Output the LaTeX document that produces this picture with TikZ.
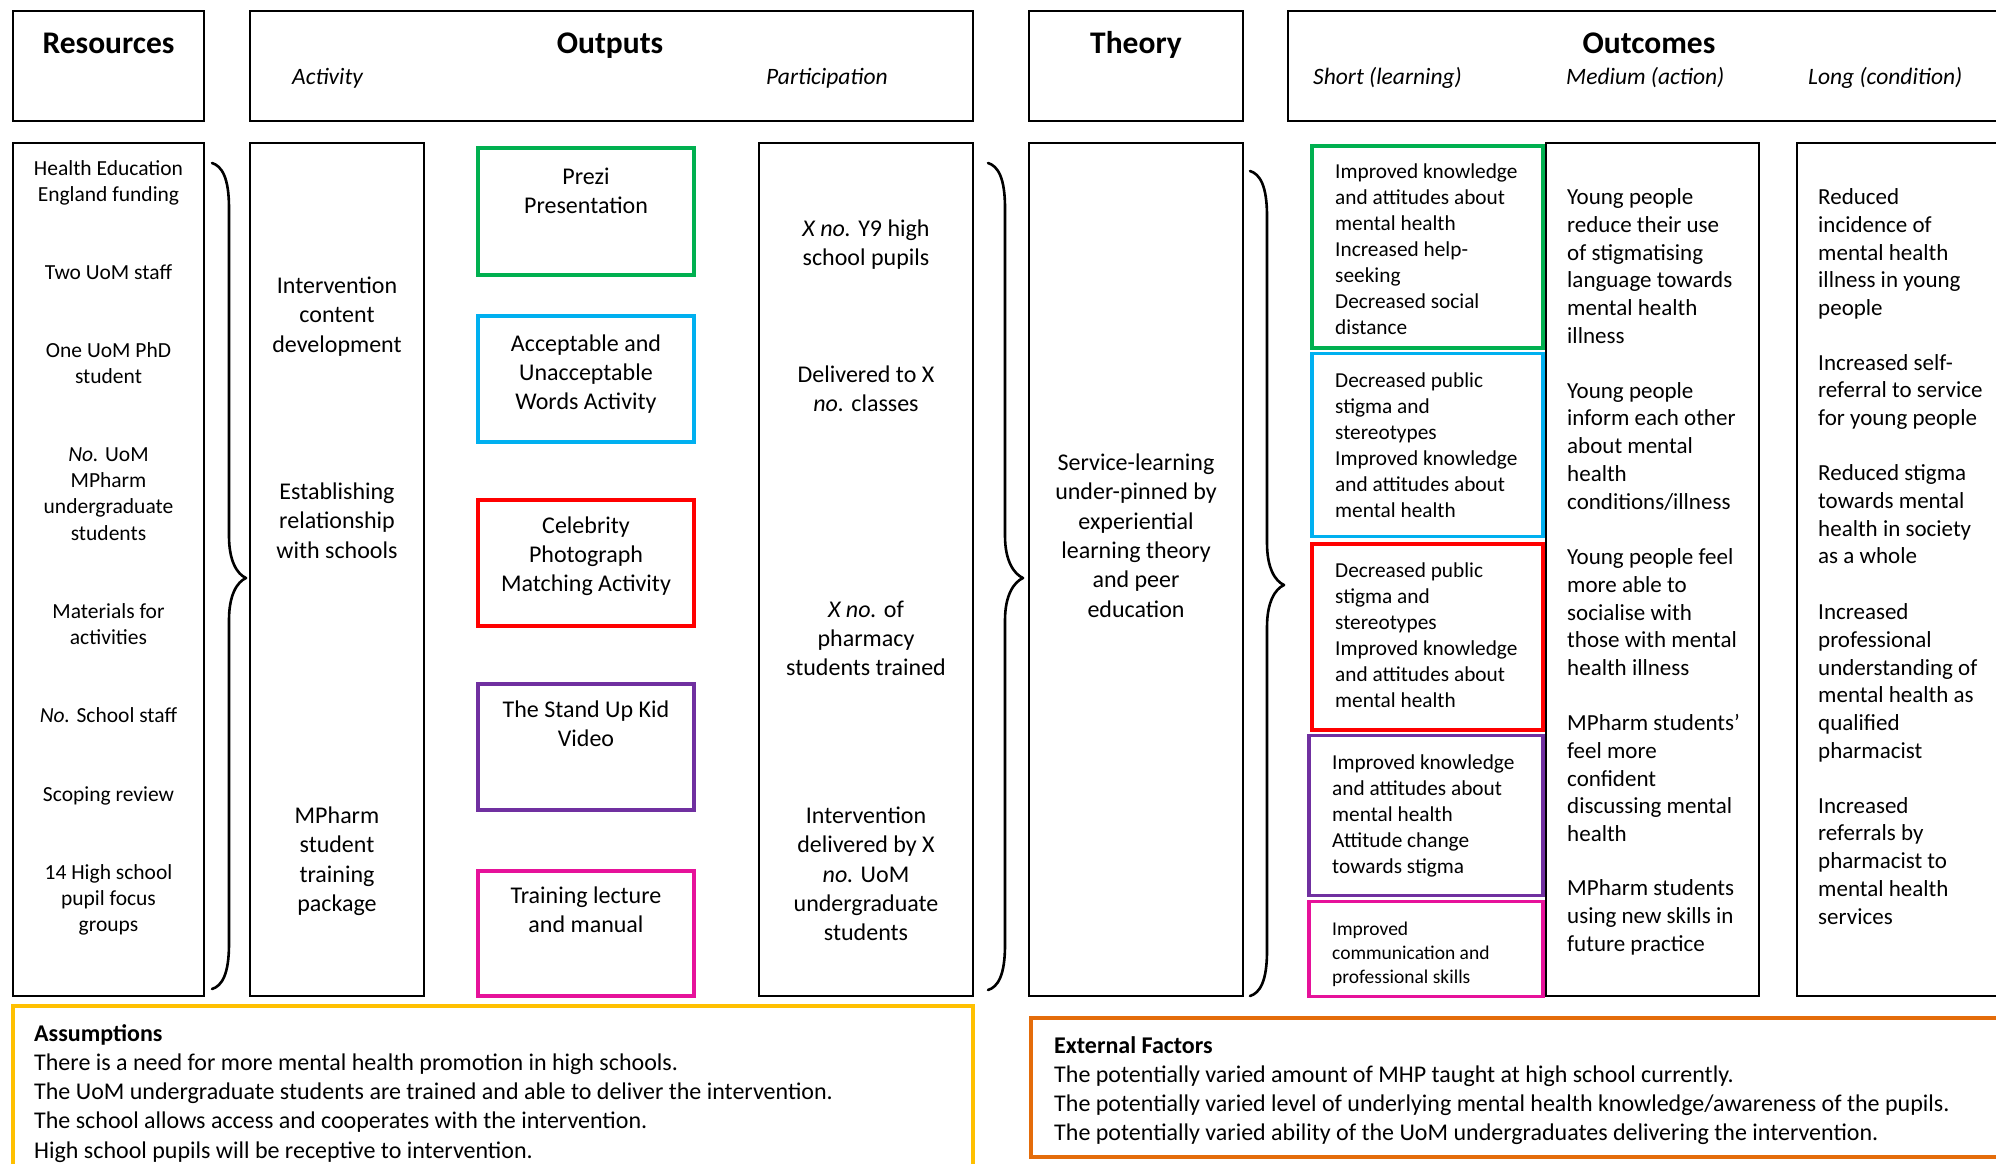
\documentclass[tikz,border=0pt]{standalone}
\usepackage{fontspec}
\setmainfont{Carlito}

\definecolor{cgreen}{HTML}{00B050}
\definecolor{ccyan}{HTML}{00B0F0}
\definecolor{cred}{HTML}{FF0000}
\definecolor{cpurple}{HTML}{7030A0}
\definecolor{cmagenta}{HTML}{E6129A}
\definecolor{cyellow}{HTML}{FFC000}
\definecolor{corange}{HTML}{E46C0A}

% stacked lines, baseline of the first line is the node baseline
\newcommand\cstack[1]{\begin{tabular}[t]{@{}c@{}}#1\end{tabular}}
\newcommand\lstack[1]{\begin{tabular}[t]{@{}l@{}}#1\end{tabular}}

% right-pointing curly brace: end x, stem x, tip x, top y, tip y, bottom y
\newcommand\drawbrace[6]{%
  \draw[brc] (#1,#4) .. controls ({#1+10},{#4+3}) and (#2,{#4+15}) .. (#2,{#4+45})
    -- (#2,{#5-42}) .. controls (#2,{#5-17}) and ({#3-9},{#5-4}) .. (#3,#5)
    .. controls ({#3-9},{#5+4}) and (#2,{#5+17}) .. (#2,{#5+42})
    -- (#2,{#6-45}) .. controls (#2,{#6-15}) and ({#1+10},{#6-3}) .. (#1,#6);}

\tikzset{
  frame/.style={draw=black, line width=2pt, inner sep=0pt, fill=none},
  cbox/.style={draw=#1, line width=3.5pt, inner sep=0pt},
  brc/.style={line width=2.6pt, line cap=round, line join=round},
  ttl/.style={anchor=base, inner sep=0pt, font=\bfseries\fontsize{31.5}{36}\selectfont},
  sub/.style={anchor=base west, inner sep=0pt, yshift=-2.5pt, font=\itshape\fontsize{23.5}{28}\selectfont},
  resT/.style={anchor=base, inner sep=0pt, yshift=-2.5pt, font=\fontsize{21.5}{26.4}\selectfont},
  bigT/.style={anchor=base, inner sep=0pt, yshift=-2.5pt, font=\fontsize{24}{29.3}\selectfont},
  shortT/.style={anchor=base west, inner sep=0pt, yshift=-2.5pt, font=\fontsize{21.3}{26}\selectfont},
  smallT/.style={anchor=base west, inner sep=0pt, yshift=-2.5pt, font=\fontsize{19.5}{24}\selectfont},
  medT/.style={anchor=base west, inner sep=0pt, yshift=-2.5pt, font=\fontsize{23}{27.8}\selectfont},
  footT/.style={anchor=base west, inner sep=0pt, yshift=-1pt, font=\fontsize{24}{29.3}\selectfont},
}

\begin{document}
\begin{tikzpicture}[x=1pt, y=-1pt]
\useasboundingbox (0,0) rectangle (1996,1163);
\fill[white] (0,0) rectangle (1996,1163);
\clip (0,0) rectangle (1996,1163);

% ---------- header row ----------
\node[frame, minimum width=191, minimum height=110] (hRes) at (108.5,66) {};
\node[frame, minimum width=723, minimum height=110] (hOut) at (611.5,66) {};
\node[frame, minimum width=214, minimum height=110] (hThe) at (1136,66) {};
\node[frame, minimum width=722, minimum height=110] (hOutc) at (1649,66) {};

\node[ttl] (tRes) at (108.5,53) {Resources};
\node[ttl] (tOut) at (610,53) {Outputs};
\node[ttl] (tThe) at (1136,53) {Theory};
\node[ttl] (tOutc) at (1649,53) {Outcomes};

\node[sub] (sAct) at (292,82) {Activity};
\node[sub] (sPar) at (766,82) {Participation};
\node[sub] (sSho) at (1313,82) {Short (learning)};
\node[sub] (sMed) at (1566,82) {Medium (action)};
\node[sub] (sLon) at (1808,82) {Long (condition)};

% ---------- resources ----------
\node[frame, minimum width=191, minimum height=853] (bRes) at (108.5,569.5) {};
\node[resT] (r1) at (108.5,172.6) {\cstack{Health Education\\England funding}};
\node[resT] (r2) at (108.5,276.6) {\cstack{Two UoM staff}};
\node[resT] (r3) at (108.5,354.6) {\cstack{One UoM PhD\\student}};
\node[resT] (r4) at (108.5,458.6) {\cstack{\textit{No.} UoM\\MPharm\\undergraduate\\students}};
\node[resT] (r5) at (108.5,615.6) {\cstack{Materials for\\activities}};
\node[resT] (r6) at (108.5,719.6) {\cstack{\textit{No.} School staff}};
\node[resT] (r7) at (108.5,798.6) {\cstack{Scoping review}};
\node[resT] (r8) at (108.5,876.6) {\cstack{14 High school\\pupil focus\\groups}};

\drawbrace{212}{229}{246}{163}{578}{989}

% ---------- activity ----------
\node[frame, minimum width=174, minimum height=853] (bAct) at (337,569.5) {};
\node[bigT] (a1) at (337,291) {\cstack{Intervention\\content\\development}};
\node[bigT] (a2) at (337,497) {\cstack{Establishing\\relationship\\with schools}};
\node[bigT] (a3) at (337,821) {\cstack{MPharm\\student\\training\\package}};

% ---------- output items ----------
\node[cbox=cgreen,   minimum width=216, minimum height=127] (oG) at (586,211.5) {};
\node[cbox=ccyan,    minimum width=216, minimum height=126] (oC) at (586,379) {};
\node[cbox=cred,     minimum width=216, minimum height=126] (oR) at (586,563) {};
\node[cbox=cpurple,  minimum width=216, minimum height=126] (oP) at (586,747) {};
\node[cbox=cmagenta, minimum width=216, minimum height=125] (oM) at (586,933.5) {};

\node[bigT] (o1) at (586,182) {\cstack{Prezi\\Presentation}};
\node[bigT] (o2) at (586,348.5) {\cstack{Acceptable and\\Unacceptable\\Words Activity}};
\node[bigT] (o3) at (586,530.5) {\cstack{Celebrity\\Photograph\\Matching Activity}};
\node[bigT] (o4) at (586,715) {\cstack{The Stand Up Kid\\Video}};
\node[bigT] (o5) at (586,901) {\cstack{Training lecture\\and manual}};

% ---------- participation ----------
\node[frame, minimum width=214, minimum height=853] (bPar) at (866,569.5) {};
\node[bigT] (p1) at (866,234) {\cstack{\textit{X no.} Y9 high\\school pupils}};
\node[bigT] (p2) at (866,380) {\cstack{Delivered to X\\\textit{no.} classes}};
\node[bigT] (p3) at (866,614.5) {\cstack{\textit{X no.} of\\pharmacy\\students trained}};
\node[bigT] (p4) at (866,821) {\cstack{Intervention\\delivered by X\\\textit{no.} UoM\\undergraduate\\students}};

\drawbrace{988}{1005}{1023}{163}{578}{990}

% ---------- theory ----------
\node[frame, minimum width=214, minimum height=853] (bThe) at (1136,569.5) {};
\node[bigT] (th) at (1136,468) {\cstack{Service-learning\\under-pinned by\\experiential\\learning theory\\and peer\\education}};

\drawbrace{1250}{1267}{1284}{171}{585}{996}

% ---------- short outcomes ----------
\node[cbox=cgreen,   minimum width=231, minimum height=202] (sG) at (1427.5,247) {};
\node[cbox=ccyan,    minimum width=231, minimum height=183] (sC) at (1427.5,445) {};
\node[cbox=cred,     minimum width=231, minimum height=186] (sR) at (1427.5,637) {};
\node[cbox=cpurple,  minimum width=234, minimum height=160] (sP) at (1426,815.5) {};
\node[cbox=cmagenta, minimum width=234, minimum height=95]  (sM) at (1426,949) {};

\node[shortT] (s1) at (1335,176) {\lstack{Improved knowledge\\and attitudes about\\mental health\\Increased help-\\seeking\\Decreased social\\distance}};
\node[shortT] (s2) at (1335,384.5) {\lstack{Decreased public\\stigma and\\stereotypes\\Improved knowledge\\and attitudes about\\mental health}};
\node[shortT] (s3) at (1335,574.5) {\lstack{Decreased public\\stigma and\\stereotypes\\Improved knowledge\\and attitudes about\\mental health}};
\node[shortT] (s4) at (1332,766.5) {\lstack{Improved knowledge\\and attitudes about\\mental health\\Attitude change\\towards stigma}};
\node[smallT] (s5) at (1332,932.5) {\lstack{Improved\\communication and\\professional skills}};

% ---------- medium outcomes ----------
\node[frame, minimum width=213, minimum height=853] (bMed) at (1652.5,569.5) {};
\node[medT] (m1) at (1567,202) {\lstack{Young people\\reduce their use\\of stigmatising\\language towards\\mental health\\illness}};
\node[medT] (m2) at (1567,395.5) {\lstack{Young people\\inform each other\\about mental\\health\\conditions/illness}};
\node[medT] (m3) at (1567,562) {\lstack{Young people feel\\more able to\\socialise with\\those with mental\\health illness}};
\node[medT] (m4) at (1567,728) {\lstack{MPharm students’\\feel more\\confident\\discussing mental\\health}};
\node[medT] (m5) at (1567,893) {\lstack{MPharm students\\using new skills in\\future practice}};

% ---------- long outcomes ----------
\node[frame, minimum width=213, minimum height=853] (bLon) at (1903.5,569.5) {};
\node[medT] (l1) at (1818,202) {\lstack{Reduced\\incidence of\\mental health\\illness in young\\people}};
\node[medT] (l2) at (1818,367.5) {\lstack{Increased self-\\referral to service\\for young people}};
\node[medT] (l3) at (1818,478) {\lstack{Reduced stigma\\towards mental\\health in society\\as a whole}};
\node[medT] (l4) at (1818,617) {\lstack{Increased\\professional\\understanding of\\mental health as\\qualified\\pharmacist}};
\node[medT] (l5) at (1818,810.5) {\lstack{Increased\\referrals by\\pharmacist to\\mental health\\services}};

% ---------- assumptions and external factors ----------
\node[cbox=cyellow, minimum width=960, minimum height=174] (assm) at (493,1093) {};
\node[footT] (assmT) at (34,1040) {\lstack{\textbf{Assumptions}\\There is a need for more mental health promotion in high schools.\\The UoM undergraduate students are trained and able to deliver the intervention.\\The school allows access and cooperates with the intervention.\\High school pupils will be receptive to intervention.}};

\node[cbox=corange, minimum width=979, minimum height=139] (ext) at (1520.5,1087.5) {};
\node[footT] (extT) at (1054,1052) {\lstack{\textbf{External Factors}\\The potentially varied amount of MHP taught at high school currently.\\The potentially varied level of underlying mental health knowledge/awareness of the pupils.\\The potentially varied ability of the UoM undergraduates delivering the intervention.}};
\end{tikzpicture}
\end{document}
